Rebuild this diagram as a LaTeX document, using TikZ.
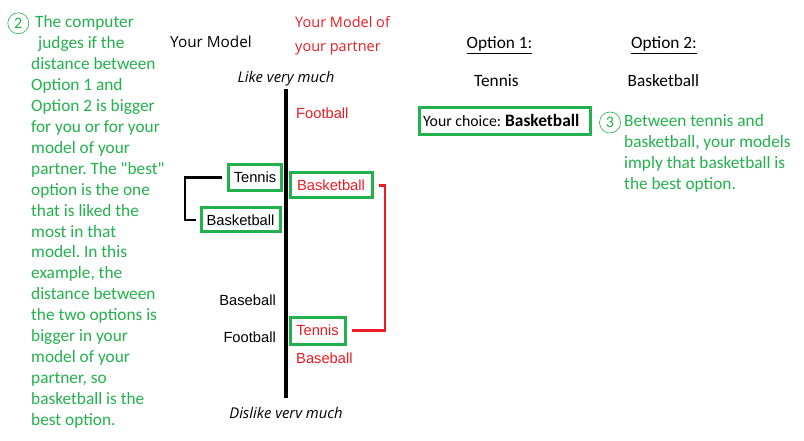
\documentclass[tikz,border=0pt]{standalone}
\usepackage{fontspec}
\setmainfont{Carlito}
\newfontfamily\arialf{Liberation Sans}
\newfontfamily\segoef{Open Sans}
\usetikzlibrary{calc,positioning}
\definecolor{pgreen}{RGB}{34,177,76}
\definecolor{pred}{RGB}{237,28,36}
\frenchspacing
\begin{document}
\begin{tikzpicture}[x=1pt,y=-1pt,
    box/.style={draw=pgreen,line width=3pt,inner sep=0pt},
    arl/.style={font=\arialf\fontsize{14.7}{17}\selectfont,inner sep=0pt},
    seg/.style={font=\segoef\fontsize{14.5}{17}\selectfont,inner sep=0pt},
    segi/.style={font=\segoef\itshape\fontsize{14.8}{17}\selectfont,inner sep=0pt},
    cal/.style={font=\fontsize{17.3}{21}\selectfont,inner sep=0pt},
    grn/.style={cal,text=pgreen,anchor=base west},
    num/.style={circle,draw=pgreen,text=pgreen,line width=0.6pt,minimum size=21pt,inner sep=0pt,font=\fontsize{16}{16}\selectfont}]
                                \useasboundingbox (0,0) rectangle (804,441);

                                % left explanation
                                \node[num] (c2) at (18.3,23.3) {2};
                                \foreach \txt [count=\i] in {{\hspace*{4pt}The computer},{\hspace*{7pt}judges if the},{distance between},{Option 1 and},{Option 2 is bigger},{for you or for your},{model of your},{partner. The \textquotedbl best\textquotedbl},{option is the one},{that is liked the},{most in that},{model. In this},{example, the},{distance between},{the two options is},{bigger in your},{model of your},{partner, so},{basketball is the},{best option.}}
                                    \node[grn] (g\i) at (31,{28+20.9*(\i-1)}) {\txt};

                                % headings
                                \node[seg,anchor=base west,font=\segoef\fontsize{15.3}{17}\selectfont] (ym) at (170,48) {Your Model};
                                \node[seg,anchor=base west,text=pred] (ymp1) at (295,28) {Your Model of};
                                \node[seg,anchor=base west,text=pred] (ymp2) at (295,52) {your partner};

                                % scale
                                \node[segi,anchor=base] (like) at (286,83) {Like very much};
                                \node[segi,anchor=base] (dislike) at (286,418) {Dislike verv much};
                                \coordinate (top) at (286,89);
                                \coordinate (bot) at (286,398);
                                \draw[line width=4pt] (top) -- (bot);

                                % your model
                                \node[box,arl,minimum width=53pt,minimum height=25.5pt] (lten) at (255,177.5) {Tennis};
                                \node[box,arl,minimum width=79pt,minimum height=24pt] (lbas) at (240.5,220) {Basketball};
                                \node[arl,anchor=base east] (lbase) at (276,305) {Baseball};
                                \node[arl,anchor=base east] (lfoot) at (276,342.5) {Football};
                                \draw[line width=2.8pt] ([xshift=-5pt]lten.west) -- ++(-37,0) |- ([xshift=-4pt]lbas.west);

                                % your model of your partner
                                \node[arl,anchor=base west,text=pred] (rfoot) at (296,119) {Football};
                                \node[box,arl,text=pred,minimum width=82pt,minimum height=25pt] (rbas) at (331,185.5) {Basketball};
                                \node[box,arl,text=pred,minimum width=55pt,minimum height=27pt] (rten) at (317.5,330.5) {Tennis};
                                \node[arl,anchor=base west,text=pred] (rbase) at (296,363.3) {Baseball};
                                \draw[pred,line width=2.8pt] ([xshift=5pt]rbas.east) -- (385,185.5) |- ([xshift=5pt]rten.east);

                                % options
                                \node[cal,anchor=base west] (o1) at (466.5,49) {\underline{Option 1:}};
                                \node[cal,anchor=base west] (o2) at (631,49) {\underline{Option 2:}};
                                \node[cal,anchor=base west] (o1v) at (474,86.5) {Tennis};
                                \node[cal,anchor=base west] (o2v) at (627.5,86.5) {Basketball};
                                \node[box,minimum width=171pt,minimum height=27pt] (ch) at (504.5,121.5) {};
                                \node[anchor=base west,inner sep=0pt] (chtxt) at (423,126.5) {\fontsize{15.8}{18}\selectfont Your choice:\hspace{4pt}{\fontsize{17.4}{18}\selectfont\bfseries Basketball}};

                                % right explanation
                                \node[num] (c3) at (610,122.5) {3};
                                \node[grn] (h1) at (624,127) {Between tennis and};
                                \node[grn] (h2) at (624,148) {basketball, your models};
                                \node[grn] (h3) at (624,169) {imply that basketball is};
                                \node[grn] (h4) at (624,190) {the best option.};
                            \end{tikzpicture}
\end{document}
